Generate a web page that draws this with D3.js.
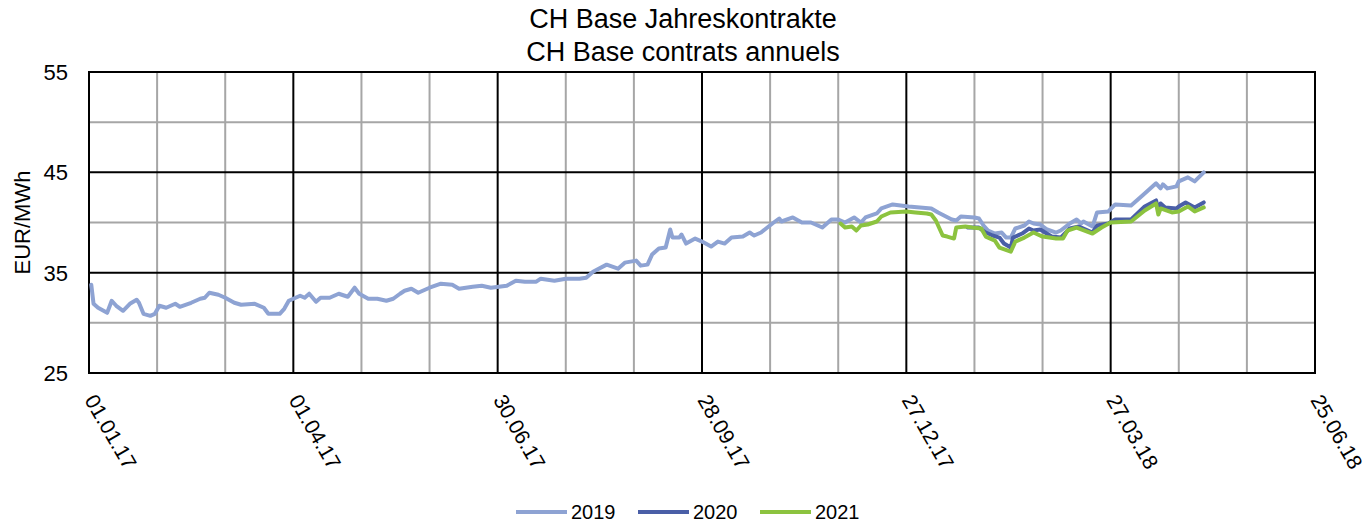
<!DOCTYPE html>
<html>
<head>
<meta charset="utf-8">
<script src="https://cdn.jsdelivr.net/npm/d3@7"></script>
<style>
  body { margin: 0; background: #fff; }
  text { font-family: "Liberation Sans", Arial, sans-serif; fill: #000; }
</style>
</head>
<body>
<script>
const seriesNames = ['2019', '2020', '2021'];
const seriesColors = ['#8ea3d3', '#4a5fa7', '#8cc33f'];

const dates2019 = ['02.01.17','03.01.17','05.01.17','09.01.17','11.01.17','13.01.17','16.01.17','19.01.17','22.01.17','23.01.17',
  '25.01.17','28.01.17','30.01.17','01.02.17','04.02.17','08.02.17','10.02.17','15.02.17','19.02.17','21.02.17',
  '23.02.17','25.02.17','27.02.17','02.03.17','06.03.17','09.03.17','15.03.17','19.03.17','21.03.17','26.03.17',
  '28.03.17','30.03.17','02.04.17','04.04.17','06.04.17','08.04.17','11.04.17','13.04.17','17.04.17','21.04.17',
  '25.04.17','28.04.17','30.04.17','04.05.17','08.05.17','12.05.17','15.05.17','18.05.17','20.05.17','23.05.17',
  '26.05.17','31.05.17','05.06.17','10.06.17','13.06.17','19.06.17','23.06.17','27.06.17','04.07.17','08.07.17',
  '12.07.17','17.07.17','19.07.17','25.07.17','30.07.17','05.08.17','08.08.17','11.08.17','17.08.17','22.08.17',
  '25.08.17','30.08.17','01.09.17','04.09.17','06.09.17','09.09.17','12.09.17','14.09.17','15.09.17','18.09.17',
  '19.09.17','21.09.17','25.09.17','28.09.17','02.10.17','05.10.17','08.10.17','11.10.17','16.10.17','19.10.17',
  '21.10.17','24.10.17','29.10.17','01.11.17','02.11.17','07.11.17','11.11.17','15.11.17','20.11.17','24.11.17',
  '27.11.17','30.11.17','04.12.17','07.12.17','09.12.17','14.12.17','16.12.17','21.12.17','28.12.17','07.01.18',
  '10.01.18','16.01.18','18.01.18','20.01.18','26.01.18','28.01.18','30.01.18','01.02.18','04.02.18','07.02.18',
  '09.02.18','11.02.18','13.02.18','17.02.18','19.02.18','21.02.18','24.02.18','27.02.18','03.03.18','05.03.18',
  '09.03.18','12.03.18','14.03.18','15.03.18','19.03.18','21.03.18','26.03.18','29.03.18','05.04.18','10.04.18',
  '16.04.18','18.04.18','19.04.18','21.04.18','25.04.18','26.04.18','30.04.18','03.05.18','07.05.18'];
const values2019 = [33.8,31.9,31.5,31.0,32.2,31.7,31.2,31.9,32.3,32.0,
  30.9,30.7,30.9,31.7,31.5,31.9,31.6,32.0,32.4,32.5,
  33.0,32.9,32.8,32.5,32.0,31.8,31.9,31.5,30.9,30.9,
  31.4,32.2,32.5,32.7,32.5,32.9,32.1,32.5,32.5,32.9,
  32.6,33.5,32.9,32.4,32.4,32.2,32.4,32.9,33.2,33.4,
  33.0,33.5,33.9,33.8,33.4,33.6,33.7,33.5,33.7,34.2,
  34.1,34.1,34.4,34.2,34.4,34.4,34.5,35.1,35.8,35.4,
  36.0,36.2,35.7,35.8,36.8,37.4,37.5,39.3,38.5,38.5,
  38.8,37.9,38.4,38.1,37.6,38.1,37.9,38.5,38.6,39.0,
  38.7,39.0,39.9,40.4,40.1,40.5,40.0,40.0,39.5,40.3,
  40.3,40.0,40.5,40.0,40.5,40.9,41.4,41.8,41.6,41.4,
  41.0,40.3,40.2,40.6,40.5,40.4,39.7,39.2,38.9,39.0,
  38.5,38.5,39.4,39.7,40.1,39.9,39.8,39.3,39.0,39.2,
  39.9,40.3,39.9,40.1,39.6,41.0,41.1,41.8,41.7,42.7,
  43.9,43.4,43.8,43.4,43.6,44.1,44.5,44.1,45.0];

const dates2020 = ['23.01.18','28.01.18','31.01.18','03.02.18','06.02.18','08.02.18','11.02.18','12.02.18','16.02.18','19.02.18',
  '21.02.18','24.02.18','01.03.18','05.03.18','09.03.18','13.03.18','19.03.18','21.03.18','26.03.18','29.03.18',
  '05.04.18','11.04.18','16.04.18','17.04.18','18.04.18','20.04.18','25.04.18','26.04.18','29.04.18','03.05.18','07.05.18'];
const values2020 = [39.5,39.5,39.0,38.7,38.5,37.9,37.5,38.5,38.9,39.4,
  39.2,39.3,38.6,38.5,39.4,39.6,39.0,39.7,39.9,40.3,
  40.3,41.6,42.2,41.2,41.9,41.5,41.4,41.6,42.0,41.5,42.0];

const dates2021 = ['28.11.17','30.11.17','03.12.17','05.12.17','07.12.17','10.12.17','14.12.17','16.12.17','20.12.17','27.12.17',
  '31.12.17','05.01.18','07.01.18','09.01.18','12.01.18','14.01.18','17.01.18','18.01.18','22.01.18','25.01.18',
  '29.01.18','31.01.18','04.02.18','06.02.18','11.02.18','13.02.18','17.02.18','21.02.18','25.02.18','03.03.18',
  '06.03.18','08.03.18','12.03.18','19.03.18','23.03.18','27.03.18','05.04.18','11.04.18','16.04.18','17.04.18',
  '18.04.18','23.04.18','26.04.18','30.04.18','03.05.18','07.05.18'];
const values2021 = [39.9,39.5,39.6,39.2,39.7,39.8,40.1,40.6,41.0,41.1,
  41.0,40.9,40.8,40.2,38.7,38.6,38.4,39.5,39.6,39.5,
  39.4,38.6,38.2,37.5,37.1,38.1,38.5,39.0,38.6,38.4,
  38.4,39.2,39.5,38.9,39.5,40.0,40.1,41.2,41.9,40.8,
  41.4,41.0,41.1,41.6,41.1,41.5];

const yTicks = [25, 35, 45, 55];
const yMinorTicks = [30, 40, 50];
const xStart = '01.01.17';
const xEnd = '25.06.18';

const W = 1366, H = 523;
const margin = { top: 72, right: 51, bottom: 150, left: 89 };

const parse = d3.timeParse('%d.%m.%y');
const fmt = d3.timeFormat('%d.%m.%y');

const svg = d3.select('body').append('svg')
  .attr('width', W)
  .attr('height', H);

const x = d3.scaleTime()
  .domain([parse(xStart), parse(xEnd)])
  .range([margin.left, W - margin.right]);

const y = d3.scaleLinear()
  .domain([25, 55])
  .range([H - margin.bottom, margin.top]);

// 30-day grid, every third one is a major (labelled) line
const allX = d3.range(0, 541, 30).map(d => d3.timeDay.offset(parse(xStart), d));
const majorX = allX.filter((d, i) => i % 3 === 0);
const minorX = allX.filter((d, i) => i % 3 !== 0);

const grid = svg.append('g');
grid.selectAll('.vminor').data(minorX).enter().append('line')
  .attr('x1', d => x(d)).attr('x2', d => x(d))
  .attr('y1', y(25)).attr('y2', y(55))
  .attr('stroke', '#a6a6a6').attr('stroke-width', 2);
grid.selectAll('.hminor').data(yMinorTicks).enter().append('line')
  .attr('x1', x.range()[0]).attr('x2', x.range()[1])
  .attr('y1', d => y(d)).attr('y2', d => y(d))
  .attr('stroke', '#a6a6a6').attr('stroke-width', 2);
grid.selectAll('.vmajor').data(majorX).enter().append('line')
  .attr('x1', d => x(d)).attr('x2', d => x(d))
  .attr('y1', y(25)).attr('y2', y(55))
  .attr('stroke', '#000').attr('stroke-width', 2);
grid.selectAll('.hmajor').data(yTicks).enter().append('line')
  .attr('x1', x.range()[0] - 1).attr('x2', x.range()[1] + 1)
  .attr('y1', d => y(d)).attr('y2', d => y(d))
  .attr('stroke', '#000').attr('stroke-width', 2);

// y axis labels
svg.append('g').selectAll('text').data(yTicks).enter().append('text')
  .attr('x', 68)
  .attr('y', d => y(d))
  .attr('dy', '0.36em')
  .attr('text-anchor', 'end')
  .style('font-size', '22px')
  .text(d => d);

svg.append('text')
  .attr('transform', `translate(30,${(y(25) + y(55)) / 2}) rotate(-90)`)
  .attr('text-anchor', 'middle')
  .style('font-size', '22px')
  .text('EUR/MWh');

// x axis labels, rotated
svg.append('g').selectAll('text').data(majorX).enter().append('text')
  .attr('transform', d => `translate(${x(d) - 5},${y(25) + 27}) rotate(60)`)
  .attr('text-anchor', 'start')
  .style('font-size', '21px')
  .text(d => fmt(d));

// series
const series = [
  { name: seriesNames[0], dates: dates2019, values: values2019 },
  { name: seriesNames[1], dates: dates2020, values: values2020 },
  { name: seriesNames[2], dates: dates2021, values: values2021 }
];

const line = d3.line()
  .x(d => x(d.date))
  .y(d => y(d.value));

series.forEach((s, i) => {
  const pts = s.dates.map((d, j) => ({ date: parse(d), value: s.values[j] }));
  svg.append('path')
    .datum(pts)
    .attr('fill', 'none')
    .attr('stroke', seriesColors[i])
    .attr('stroke-width', 4)
    .attr('stroke-linejoin', 'round')
    .attr('stroke-linecap', 'round')
    .attr('d', line);
});

// title
svg.append('text')
  .attr('x', W / 2).attr('y', 28)
  .attr('text-anchor', 'middle')
  .style('font-size', '27px')
  .text('CH Base Jahreskontrakte');
svg.append('text')
  .attr('x', W / 2).attr('y', 61)
  .attr('text-anchor', 'middle')
  .style('font-size', '27px')
  .text('CH Base contrats annuels');

// legend
const legendX = [516, 638, 760];
const legend = svg.append('g');
seriesNames.forEach((n, i) => {
  legend.append('line')
    .attr('x1', legendX[i]).attr('x2', legendX[i] + 51)
    .attr('y1', 512).attr('y2', 512)
    .attr('stroke', seriesColors[i])
    .attr('stroke-width', 4);
  legend.append('text')
    .attr('x', legendX[i] + 55).attr('y', 519)
    .style('font-size', '20px')
    .text(n);
});
</script>
</body>
</html>
